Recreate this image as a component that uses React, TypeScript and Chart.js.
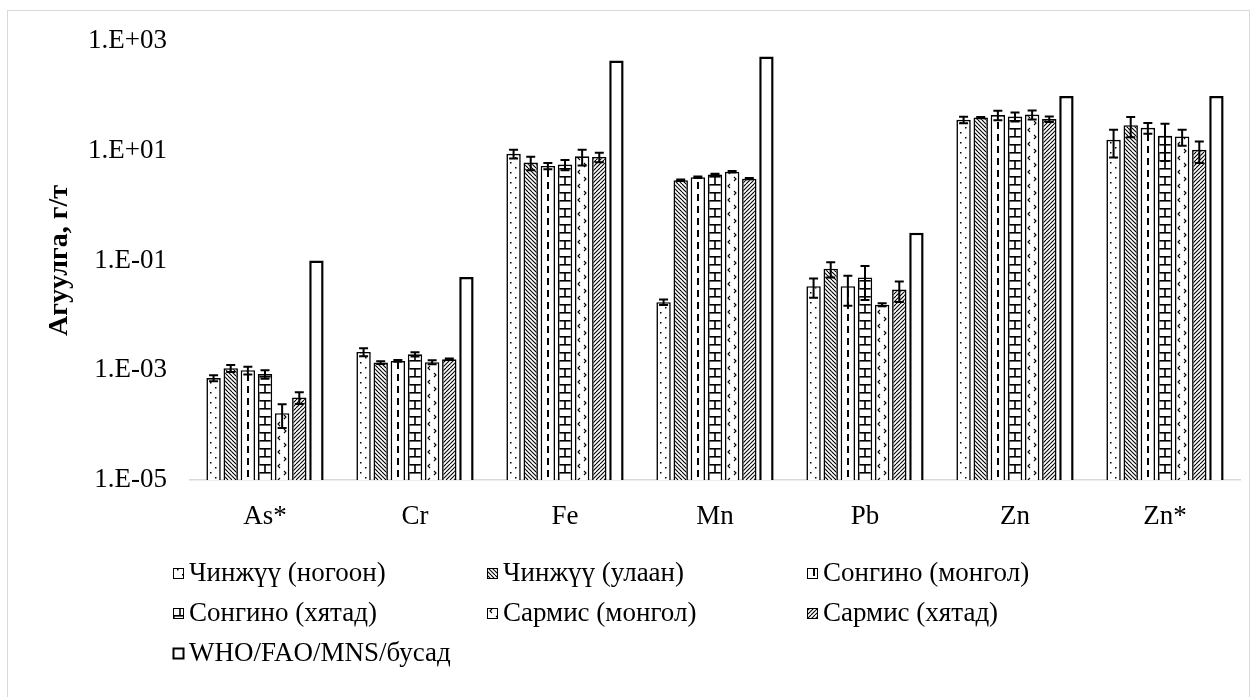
import React, { useEffect, useRef } from "react";
import { Chart, registerables } from "chart.js";

Chart.register(...registerables);

const categories = ["As*", "Cr", "Fe", "Mn", "Pb", "Zn", "Zn*"];
const seriesNames = [
  "Чинжүү (ногоон)",
  "Чинжүү (улаан)",
  "Сонгино (монгол)",
  "Сонгино (хятад)",
  "Сармис (монгол)",
  "Сармис (хятад)",
  "WHO/FAO/MNS/бусад",
];

const chinjuuGreen = [7.2e-4, 2.15e-3, 8.8, 0.0174, 0.034, 36.6, 15.8];
const chinjuuRed = [1.09e-3, 1.38e-3, 6.1, 2.9, 0.071, 40.3, 29.3];
const songinoMgl = [1.0e-3, 1.48e-3, 5.3, 3.3, 0.034, 44.6, 26.2];
const songinoChn = [8.5e-4, 1.95e-3, 5.6, 3.7, 0.049, 42, 18.7];
const sarmisMgl = [1.65e-4, 1.4e-3, 7.9, 4.15, 0.0157, 45.7, 18.2];
const sarmisChn = [3.2e-4, 1.58e-3, 7.7, 3.1, 0.0295, 37.7, 10.4];
const standard = [0.1, 0.05, 440, 520, 0.32, 100, 100];

const errGreen = [0.9e-4, 3.6e-4, 1.6, 0.002, 0.013, 5, 8.3];
const errRed = [1.6e-4, 0.8e-4, 1.7, 0.08, 0.022, 1, 11.7];
const errSongMgl = [1.6e-4, 0.5e-4, 0.7, 0.1, 0.019, 8.7, 5.7];
const errSongChn = [1.5e-4, 1.7e-4, 1.2, 0.12, 0.03, 7.7, 12.2];
const errSarMgl = [7.6e-5, 1.2e-4, 2.5, 0.12, 0.001, 8.4, 5.9];
const errSarChn = [7.8e-5, 0.5e-4, 1.5, 0.08, 0.012, 4.4, 4.4];

const yTicks = [1e-5, 1e-3, 1e-1, 1e1, 1e3];
const yTickLabels = ["1.E-05", "1.E-03", "1.E-01", "1.E+01", "1.E+03"];

const FONT = "'Liberation Serif', 'Times New Roman', serif";
const CAT_PCT = 0.8;
const BAR_PCT = 0.84;

function makeTile(kind: number): HTMLCanvasElement {
  const c = document.createElement("canvas");
  const ctx = c.getContext("2d")!;
  let w = 14, h = 10;
  if (kind === 1 || kind === 5) { w = 8; h = 8; }
  if (kind === 2) { w = 14; h = 12; }
  if (kind === 3) { w = 14; h = 16; }
  if (kind === 4) { w = 14; h = 14; }
  if (kind === 6) { w = 4; h = 4; }
  c.width = w; c.height = h;
  ctx.fillStyle = "#fff";
  ctx.fillRect(0, 0, w, h);
  ctx.fillStyle = "#000";
  ctx.strokeStyle = "#000";
  if (kind === 0) {
    ctx.fillRect(4, 2, 1.5, 1.5);
    ctx.fillRect(9, 7, 1.5, 1.5);
  } else if (kind === 1) {
    ctx.lineWidth = 1.1;
    for (let k = -8; k <= 16; k += 4) {
      ctx.beginPath();
      ctx.moveTo(k, 0);
      ctx.lineTo(k + 8, 8);
      ctx.stroke();
    }
  } else if (kind === 2) {
    ctx.fillRect(6, 2, 2, 7);
  } else if (kind === 3) {
    ctx.fillRect(0, 0, w, 1.6);
    ctx.fillRect(0, 8, w, 1.6);
    ctx.fillRect(6.2, 0, 1.6, 8);
    ctx.fillRect(0, 8, 1.6, 8);
  } else if (kind === 4) {
    ctx.lineWidth = 1.1;
    ctx.beginPath();
    ctx.moveTo(5, 2); ctx.lineTo(3, 4); ctx.lineTo(5, 6);
    ctx.stroke();
    ctx.beginPath();
    ctx.moveTo(9, 9); ctx.lineTo(11, 11); ctx.lineTo(9, 13);
    ctx.stroke();
  } else if (kind === 5) {
    ctx.lineWidth = 1.1;
    for (let k = -8; k <= 16; k += 4) {
      ctx.beginPath();
      ctx.moveTo(k, 8);
      ctx.lineTo(k + 8, 0);
      ctx.stroke();
    }
  }
  return c;
}

function patternAt(ctx: CanvasRenderingContext2D, tile: HTMLCanvasElement, x: number, y: number) {
  const p = ctx.createPattern(tile, "repeat")!;
  p.setTransform(new DOMMatrix([1, 0, 0, 1, Math.round(x), Math.round(y)]));
  return p;
}

const errorBarPlugin = {
  id: "errorBars",
  afterDatasetsDraw(chart: any) {
    const ctx = chart.ctx;
    const yScale = chart.scales.y;
    ctx.save();
    ctx.strokeStyle = "#000";
    ctx.lineWidth = 2;
    chart.data.datasets.forEach((ds: any, di: number) => {
      if (!ds.errors) return;
      const meta = chart.getDatasetMeta(di);
      meta.data.forEach((bar: any, i: number) => {
        const v = ds.data[i];
        const e = ds.errors[i];
        const x = bar.x;
        const yTop = yScale.getPixelForValue(v + e);
        const yBot = yScale.getPixelForValue(Math.max(v - e, 1e-9));
        const cap = 4.5;
        ctx.beginPath();
        ctx.moveTo(x, yTop);
        ctx.lineTo(x, yBot);
        ctx.moveTo(x - cap, yTop);
        ctx.lineTo(x + cap, yTop);
        ctx.moveTo(x - cap, yBot);
        ctx.lineTo(x + cap, yBot);
        ctx.stroke();
      });
    });
    ctx.restore();
  },
};

export default function App() {
  const ref = useRef<HTMLCanvasElement>(null);
  useEffect(() => {
    document.body.style.margin = "0";
    const canvas = ref.current!;
    const c2d = canvas.getContext("2d")!;
    const values = [chinjuuGreen, chinjuuRed, songinoMgl, songinoChn, sarmisMgl, sarmisChn, standard];
    const errs = [errGreen, errRed, errSongMgl, errSongChn, errSarMgl, errSarChn, null];
    const tiles = values.map((_, i) => makeTile(i));
    const nSeries = values.length;

    const legendPlugin = {
      id: "customLegend",
      afterDraw(chart: any) {
        const ctx = chart.ctx;
        const area = chart.chartArea;
        const colX = [area.left - 17, area.left + 297, area.left + 617];
        const rowY = [area.bottom + 93, area.bottom + 133, area.bottom + 173];
        ctx.save();
        ctx.font = `27px ${FONT}`;
        ctx.textBaseline = "middle";
        chart.data.datasets.forEach((ds: any, i: number) => {
          const x = colX[i % 3];
          const y = rowY[Math.floor(i / 3)];
          const s = 11;
          const top = Math.round(y - s / 2);
          ctx.fillStyle = i === 6 ? "#fff" : patternAt(ctx, tiles[i], x, top - 1);
          ctx.fillRect(x, top, s, s);
          ctx.strokeStyle = "#000";
          ctx.lineWidth = i === 6 ? 2 : 1;
          ctx.strokeRect(x + 0.5, top + 0.5, s - 1, s - 1);
          ctx.fillStyle = "#000";
          ctx.fillText(ds.label, x + s + 5, y + 1);
        });
        ctx.restore();
      },
    };

    const datasets = values.map((d, i) => ({
      label: seriesNames[i],
      data: d,
      errors: errs[i],
      backgroundColor: (cx: any) => {
        if (i === 6) return "#ffffff";
        const xs = cx.chart.scales && cx.chart.scales.x;
        if (!xs || !xs.width || cx.dataIndex === undefined) return patternAt(c2d, tiles[i], 0, 0);
        const catW = xs.width / categories.length;
        const pitch = (catW * CAT_PCT) / nSeries;
        const w = pitch * BAR_PCT;
        const center = xs.getPixelForValue(cx.dataIndex) + (i - (nSeries - 1) / 2) * pitch;
        return patternAt(c2d, tiles[i], center - w / 2, 0);
      },
      borderColor: "#000",
      borderWidth: i === 6 ? 2.5 : 1.6,
      categoryPercentage: CAT_PCT,
      barPercentage: BAR_PCT,
    }));
    const chart = new Chart(canvas, {
      type: "bar",
      data: { labels: categories, datasets: datasets as any },
      options: {
        animation: false,
        responsive: false,
        layout: { padding: { left: 0, right: 18, top: 41, bottom: 0 } },
        plugins: { legend: { display: false }, tooltip: { enabled: false } },
        scales: {
          x: {
            grid: { display: false, drawTicks: false },
            border: { display: true, color: "#d9d9d9", width: 1.5 },
            ticks: { font: { family: FONT, size: 27 }, color: "#000", padding: 21 },
            afterFit(scale: any) { scale.height = 217; },
          },
          y: {
            type: "logarithmic",
            min: 1e-5,
            max: 1e3,
            grid: { display: false, drawTicks: false },
            border: { display: false },
            afterBuildTicks(scale: any) { scale.ticks = yTicks.map((v) => ({ value: v })); },
            ticks: {
              font: { family: FONT, size: 27 },
              color: "#000",
              padding: 23,
              callback: (v: any) => {
                const idx = yTicks.findIndex((t) => Math.abs(Math.log10(t) - Math.log10(v)) < 1e-6);
                return idx >= 0 ? yTickLabels[idx] : "";
              },
            },
            title: {
              display: true,
              text: "Агуулга, г/т",
              font: { family: FONT, size: 28, weight: "bold" },
              color: "#000",
              padding: { top: 43, bottom: 0 },
            },
            afterFit(scale: any) { scale.width = 190; },
          },
        },
      },
      plugins: [errorBarPlugin, legendPlugin],
    });
    return () => chart.destroy();
  }, []);
  return (
    <div style={{ position: "relative", width: 1258, height: 697, background: "#fff" }}>
      <div style={{ position: "absolute", left: 7, top: 10, width: 1243, height: 700, border: "1px solid #d9d9d9", boxSizing: "border-box" }} />
      <canvas ref={ref} width={1258} height={697} style={{ position: "absolute", left: 0, top: 0 }} />
    </div>
  );
}
